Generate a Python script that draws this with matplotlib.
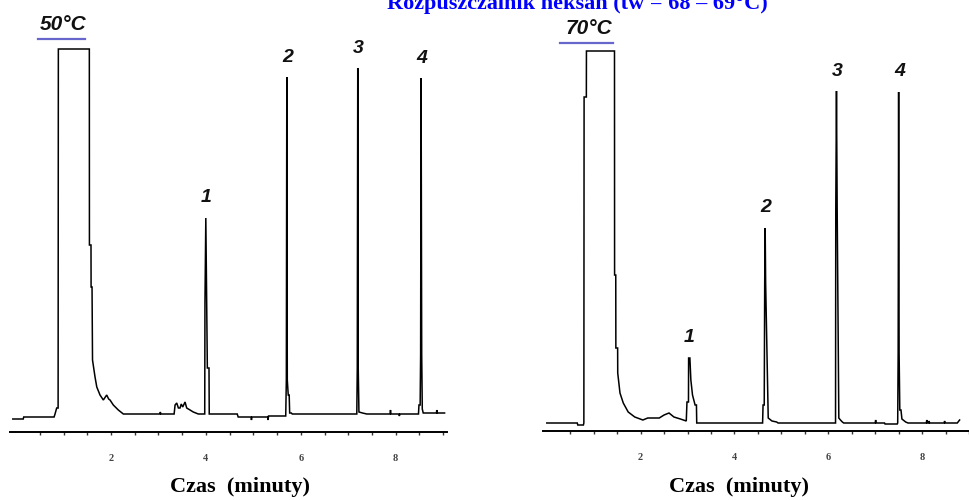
import matplotlib
matplotlib.use("Agg")
import matplotlib.pyplot as plt
from matplotlib.lines import Line2D
import numpy as np

# ---------------- data ----------------
# 50 °C panel : time [min], detector signal [a.u.]
time_50 = [-0.07, 0.15, 0.16, 0.80, 0.82, 0.855, 0.885, 0.89, 1.543, 1.545, 1.578, 1.58,
           1.60, 1.61, 1.663, 1.70, 1.768, 1.838, 1.909, 1.95, 1.979, 2.048, 2.154, 2.26,
           3.03, 3.04, 3.05, 3.33, 3.35, 3.385, 3.42, 3.454, 3.48, 3.511, 3.56, 3.595,
           3.665, 3.734, 3.84, 3.975, 3.98, 3.998, 4.016, 4.03, 4.065, 4.07, 4.66, 4.68,
           4.95, 4.96, 4.97, 5.30, 5.31, 5.32, 5.682, 5.695, 5.705, 5.715, 5.735, 5.755,
           5.765, 5.80, 5.82, 7.18, 7.19, 7.20, 7.21, 7.225, 7.30, 7.39, 7.88, 7.89,
           7.90, 8.07, 8.076, 8.09, 8.48, 8.49, 8.515, 8.525, 8.535, 8.548, 8.56, 8.58,
           8.86, 8.865, 8.87, 9.03]
signal_50 = [-5, -5, -3, -3, 0, 6, 6, 365, 365, 169, 169, 127,
             127, 54, 37, 27, 19, 14, 19, 15, 14, 9, 4, 0,
             0, 2, 0, 0, 9, 11, 6, 6, 10, 7, 12, 6,
             4, 2, 0, 0, 112, 196, 112, 46, 46, 0, 0, -3,
             -3, -6, -3, -3, -6, -2, -2, 34, 337, 34, 19, 19,
             1, 1, 0, 0, 46, 346, 46, 2, 1, 0, 0, 4,
             0, 0, -2, 0, 0, 9, 9, 59, 336, 59, 5, 1,
             1, 4, 1, 1]

# 70 °C panel
time_70 = [0.0, 0.65, 0.66, 0.78, 0.79, 0.795, 0.843, 0.845, 1.443, 1.445, 1.47, 1.472,
           1.51, 1.512, 1.56, 1.63, 1.735, 1.875, 2.048, 2.152, 2.397, 2.50, 2.605, 2.71,
           2.848, 2.973, 2.988, 3.02, 3.023, 3.05, 3.071, 3.106, 3.161, 3.19, 3.196, 4.60,
           4.61, 4.635, 4.645, 4.655, 4.665, 4.72, 4.80, 4.90, 4.93, 6.155, 6.16, 6.175,
           6.19, 6.225, 6.26, 6.30, 6.33, 7.00, 7.01, 7.02, 7.20, 7.21, 7.47, 7.48,
           7.49, 7.50, 7.51, 7.525, 7.55, 7.57, 7.65, 7.70, 8.09, 8.10, 8.11, 8.14,
           8.15, 8.16, 8.47, 8.48, 8.49, 8.75, 8.80]
signal_70 = [0, 0, -2, -2, 0, 326, 326, 372, 372, 148, 148, 75,
             75, 50, 30, 20, 11, 6, 3, 5, 5, 8, 10, 6,
             4, 2, 21, 21, 65, 65, 43, 28, 18, 18, 0, 0,
             18, 18, 140, 195, 140, 5, 2, 1, 0, 0, 213, 332,
             213, 5, 3, 1, 0, 0, 3, 0, 0, -1, -1, 0,
             70, 331, 70, 13, 13, 4, 1, 0, 0, 3, 0, 0,
             2, 0, 0, 2, 0, 0, 3]

# labelled peaks (retention time, peak top)
peak_names = ["1", "2", "3", "4"]
peaks_50_t = [3.998, 5.705, 7.20, 8.535]
peaks_50_h = [196, 337, 346, 336]
peaks_70_t = [3.023, 4.655, 6.175, 7.50]
peaks_70_h = [65, 195, 332, 331]

temps = ["50°C", "70°C"]
major_ticks = [2, 4, 6, 8]
minor_ticks = [0.5, 1, 1.5, 2.5, 3, 3.5, 4.5, 5, 5.5, 6.5, 7, 7.5, 8.5, 9]
title = "Rozpuszczalnik heksan (tw = 68 – 69°C)"
xlabel = "Czas  (minuty)"

# ---------------- figure ----------------
W, H = 969, 500
fig = plt.figure(figsize=(W / 100, H / 100), dpi=100)
fig.patch.set_facecolor("white")

def fx(px):
    return px / W

def fy(py):
    return 1 - py / H

serif = "Liberation Serif"
sans = "Liberation Sans"

axL = fig.add_axes([fx(10), fy(432), fx(437), (432 - 40) / H])
axR = fig.add_axes([fx(543), fy(431), fx(426), (431 - 40) / H])

panels = [
    (axL, time_50, signal_50, peaks_50_t, peaks_50_h, (-0.129, 9.081), (-18, 374)),
    (axR, time_70, signal_70, peaks_70_t, peaks_70_h, (-0.081, 8.812), (-8, 383)),
]

for ax, t, s, pt, ph, xl, yl in panels:
    ax.plot(t, s, color="black", lw=1.1, solid_joinstyle="miter")
    ax.set_xlim(*xl)
    ax.set_ylim(*yl)
    for side in ("left", "right", "top"):
        ax.spines[side].set_visible(False)
    ax.spines["bottom"].set_linewidth(1.4)
    ax.set_yticks([])
    ax.set_xticks(major_ticks)
    ax.set_xticks(minor_ticks, minor=True)
    ax.set_xticklabels([str(v) for v in major_ticks])
    ax.tick_params(axis="x", which="both", direction="out", length=2.5, width=1.0,
                   color="#333333")
    ax.tick_params(axis="x", which="major", pad=13.0, labelsize=7.5, labelcolor="#444444")
    for lab in ax.get_xticklabels():
        lab.set_fontfamily(serif)
        lab.set_fontweight("bold")
    ax.patch.set_alpha(0)
    for name, x, h in zip(peak_names, pt, ph):
        ax.annotate(name, (x, h), xytext=(0.5, 14.4), textcoords="offset points",
                    ha="center", va="center", fontsize=14, fontweight="bold",
                    fontstyle="italic", family=sans, color="#111111")

# temperatures with underline
for label, cx, cy, ux0, ux1, uy in [(temps[0], 63.5, 24, 38, 85, 39.3),
                                    (temps[1], 589, 28.7, 560, 613, 43.3)]:
    fig.text(fx(cx), fy(cy), label, ha="center", va="center", fontsize=15,
             fontweight="bold", fontstyle="italic", family=sans, color="#111111")
    fig.add_artist(Line2D([fx(ux0), fx(ux1)], [fy(uy), fy(uy)], color="#6666cc",
                          lw=1.6, transform=fig.transFigure))

# axis titles
fig.text(fx(240), fy(487), xlabel, ha="center", va="center", fontsize=16,
         fontweight="bold", family=serif, color="black")
fig.text(fx(739), fy(487), xlabel, ha="center", va="center", fontsize=16,
         fontweight="bold", family=serif, color="black")

# main title (cut by the top edge, as in the original)
fig.text(fx(577), fy(9), title, ha="center", va="baseline", fontsize=16,
         fontweight="bold", family=serif, color="#0000ff")

fig.savefig("out.png", dpi=100)
